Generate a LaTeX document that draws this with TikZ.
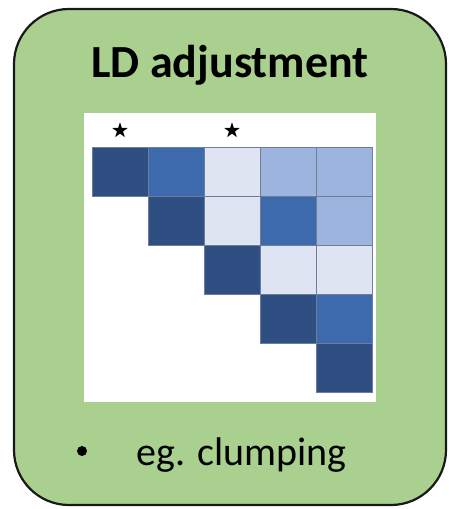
\documentclass[tikz,border=0pt]{standalone}
\usepackage{amssymb}
\usepackage{fontspec}
\setmainfont{Carlito}
\usetikzlibrary{positioning}

\definecolor{boxgreen}{HTML}{A9D08E}
\definecolor{ldfull}{HTML}{2F4F83}
\definecolor{ldhigh}{HTML}{3C6AAD}
\definecolor{ldmid}{HTML}{9DB4DE}
\definecolor{ldlow}{HTML}{DEE4F1}
\definecolor{ldline}{HTML}{6F7E98}

\tikzset{
  card/.style={draw=black!90, line width=2.2pt, fill=boxgreen, rounded corners=55pt},
  cell/.style={draw=ldline, line width=0.6pt, fill=#1, minimum width=56pt,
    minimum height=49pt, inner sep=0pt, outer sep=0pt},
  marker/.style={inner sep=0pt, font=\fontsize{18}{18}\selectfont}
}

\begin{document}
\begin{tikzpicture}[x=1pt,y=-1pt]
  \useasboundingbox (0,0) rectangle (449,509);
  \draw[card] (14,9) rectangle (446,505);

  \node (title) [anchor=base, font=\bfseries\fontsize{46}{50}\selectfont] at (230,77) {LD adjustment};

  % LD matrix, upper triangle only
  \node (panel) [fill=white, minimum width=292pt, minimum height=289pt] at (230,257.5) {};
  \foreach \r/\c/\shade in {1/1/ldfull,1/2/ldhigh,1/3/ldlow,1/4/ldmid,1/5/ldmid,
                            2/2/ldfull,2/3/ldlow,2/4/ldhigh,2/5/ldmid,
                            3/3/ldfull,3/4/ldlow,3/5/ldlow,
                            4/4/ldfull,4/5/ldhigh,
                            5/5/ldfull}
    \node[cell=\shade] (c\r\c) at ({64+56*\c},{122.5+49*\r}) {};

  \node[marker] (star1) [above=8pt of c11] {$\bigstar$};
  \node[marker] (star3) [above=8pt of c13] {$\bigstar$};

  \node (dot) [circle, fill=black, inner sep=0pt, minimum size=10pt] at (82,451) {};
  \node (note) [anchor=base west, font=\fontsize{40}{44}\selectfont] at (133,465) {eg. clumping};
\end{tikzpicture}
\end{document}
